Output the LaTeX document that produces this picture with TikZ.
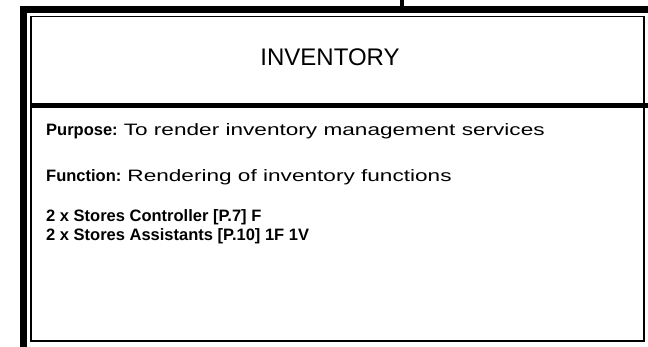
\documentclass[tikz,border=0pt]{standalone}
\usepackage{fontspec}
\setmainfont{Liberation Sans}
\usepackage{graphicx}
\usepackage{tikz}
\usetikzlibrary{positioning}

% regular text in the box runs wider than the bold labels
\newcommand{\widetext}[1]{\scalebox{1.37}[1]{#1}}

\tikzset{
  bodytext/.style={anchor=west, inner sep=0pt, font=\fontsize{16.5}{19}\selectfont},
}

\begin{document}
\begin{tikzpicture}[x=1pt,y=-1pt]
  \useasboundingbox (0,0) rectangle (648,347);
    %Frame
    \draw[black, line width=7pt] (23.5,347)--(23.5,10)--(648,10);
    \draw[black, line width=4pt] (402,0)--(402,10);
    \draw[black, line width=1.5pt] (31,16.5) rectangle (644,341);
    \draw[black, line width=4.5pt] (31,105.5)--(648,105.5);
    %Title
    \node (title) at (330,57) {\fontsize{24}{28}\selectfont INVENTORY};
    %Text
    \node[bodytext] (purpose) at (46,131) {\textbf{Purpose:} \widetext{To render inventory management services}};
    \node[bodytext] (function) at (46,177) {\textbf{Function:} \widetext{Rendering of inventory functions}};
    \node[bodytext] (controller) at (46,217) {\textbf{2 x Stores Controller [P.7] F}};
    \node[bodytext, below=3pt of controller.south west, anchor=north west] (assistant) {\textbf{2 x Stores Assistants [P.10] 1F 1V}};
\end{tikzpicture}
\end{document}
